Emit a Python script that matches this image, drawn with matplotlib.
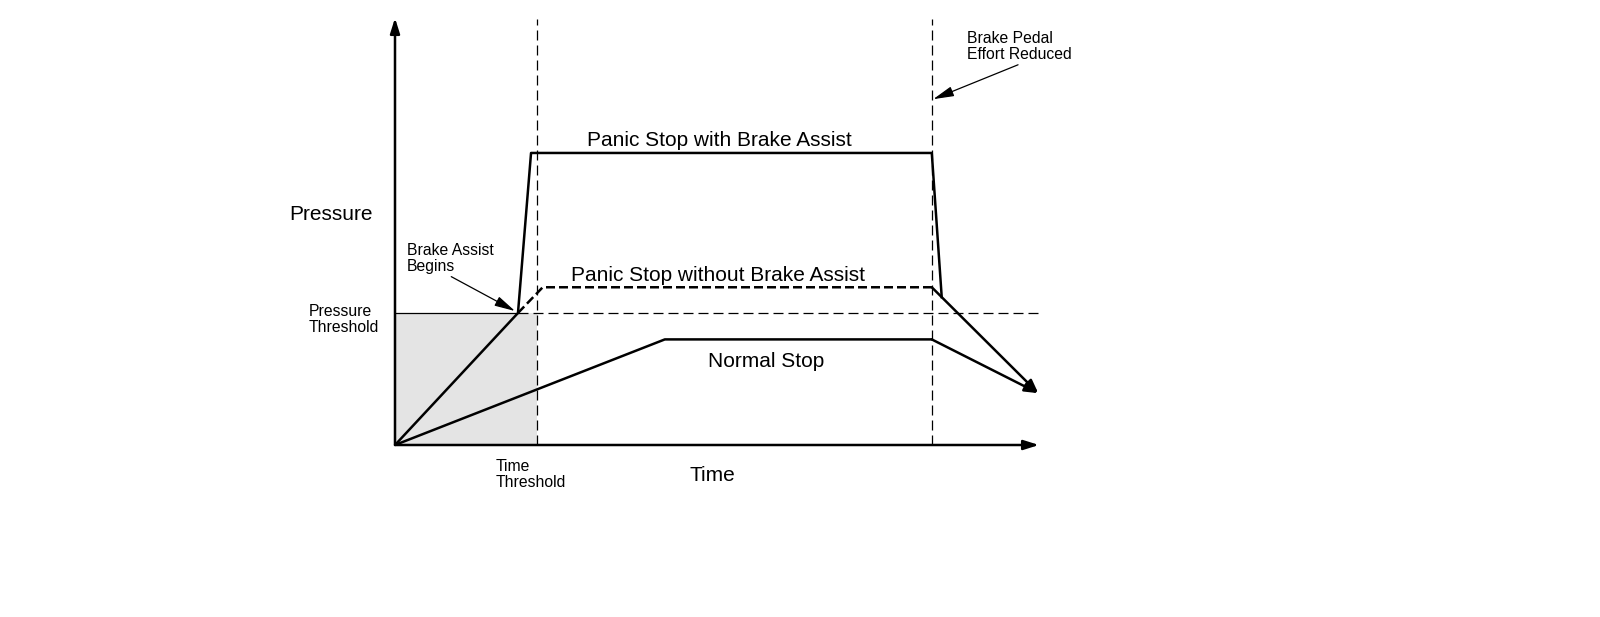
import matplotlib
matplotlib.use("Agg")
import matplotlib.pyplot as plt

plt.rcParams['font.family'] = ['Liberation Sans', 'DejaVu Sans']

# Key times and pressures (arbitrary units)
time_threshold = 10.0
release_time = 37.8
end_time = 45.3
pressure_threshold = 40.0

# Panic stop with brake assist
assist_t = [0, 8.66, 9.58, 37.8, 38.5]
assist_p = [0, 40.0, 88.5, 88.5, 44.8]

# Panic stop without brake assist (dashed part, then solid fall)
noassist_t = [8.66, 10.4, 37.8]
noassist_p = [40.0, 47.8, 47.8]
noassist_fall_t = [37.8, 45.3]
noassist_fall_p = [47.8, 15.7]

# Normal stop
normal_t = [0, 19.0, 37.8]
normal_p = [0, 32.0, 32.0]
normal_fall_t = [37.8, 45.3]
normal_fall_p = [32.0, 15.7]

fig = plt.figure(figsize=(16, 6.17), dpi=100)
ax = fig.add_axes([395 / 1600, 172 / 617, 644 / 1600, 427 / 617])
ax.set_xlim(0, 45.35)
ax.set_ylim(0, 129.4)
ax.set_axis_off()

# shaded region below thresholds
ax.fill_between([0, time_threshold], 0, pressure_threshold, color='#e4e4e4', lw=0)

# threshold lines
ax.plot([0, assist_t[1]], [pressure_threshold, pressure_threshold], color='black', lw=0.9)
ax.plot([assist_t[1], 45.35], [pressure_threshold, pressure_threshold], color='black',
        lw=0.9, dashes=(8, 4))
for t in [time_threshold, release_time]:
    ax.plot([t, t], [0, 129], color='black', lw=0.9, dashes=(8, 4))

# curves
ax.plot(assist_t, assist_p, color='black', lw=1.8)
ax.plot(noassist_t, noassist_p, color='black', lw=1.8, dashes=(3.6, 1.6))
ax.plot(normal_t, normal_p, color='black', lw=1.8)
for ft, fp in [(noassist_fall_t, noassist_fall_p), (normal_fall_t, normal_fall_p)]:
    ax.annotate('', xy=(ft[1], fp[1]), xytext=(ft[0], fp[0]),
                arrowprops=dict(arrowstyle='-|>,head_length=0.8,head_width=0.3',
                                color='black', lw=1.8, shrinkA=0, shrinkB=0,
                                mutation_scale=10))

# axes arrows
ax.annotate('', xy=(0, 129.4), xytext=(0, 0),
            arrowprops=dict(arrowstyle='-|>,head_length=0.7,head_width=0.22',
                            color='black', lw=1.8, shrinkA=0, shrinkB=0, mutation_scale=13))
ax.annotate('', xy=(45.35, 0), xytext=(0, 0),
            arrowprops=dict(arrowstyle='-|>,head_length=0.7,head_width=0.22',
                            color='black', lw=1.8, shrinkA=0, shrinkB=0, mutation_scale=13))

# labels
ax.text(22.85, 92.4, 'Panic Stop with Brake Assist', fontsize=15, ha='center', va='center')
ax.text(22.75, 51.5, 'Panic Stop without Brake Assist', fontsize=15, ha='center', va='center')
ax.text(26.1, 25.2, 'Normal Stop', fontsize=15, ha='center', va='center')
ax.text(-4.5, 70, 'Pressure', fontsize=15, ha='center', va='center')
ax.text(22.35, -9.1, 'Time', fontsize=15, ha='center', va='center')
ax.text(-6.1, 38.0, 'Pressure\nThreshold', fontsize=11.3, ha='left', va='center', linespacing=1.05)
ax.text(7.1, -9.0, 'Time\nThreshold', fontsize=11.3, ha='left', va='center', linespacing=1.05)

ax.annotate('Brake Assist\nBegins', xy=(8.45, 40.6), xytext=(0.85, 56.5),
            fontsize=11.3, ha='left', va='center', linespacing=1.05,
            arrowprops=dict(arrowstyle='-|>,head_length=0.9,head_width=0.22', color='black',
                            lw=0.9, shrinkA=0, shrinkB=0, mutation_scale=14,
                            relpos=(0.45, 0.0)))
ax.annotate('Brake Pedal\nEffort Reduced', xy=(37.9, 104.8), xytext=(40.3, 120.7),
            fontsize=11.3, ha='left', va='center', linespacing=1.05,
            arrowprops=dict(arrowstyle='-|>,head_length=0.9,head_width=0.22', color='black',
                            lw=0.9, shrinkA=0, shrinkB=0, mutation_scale=14,
                            relpos=(0.55, 0.0)))

fig.savefig('out.png', dpi=100)
